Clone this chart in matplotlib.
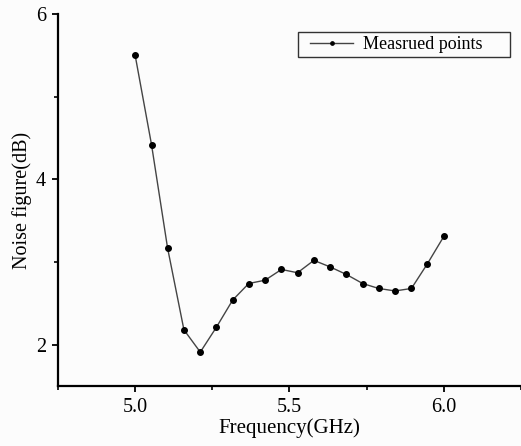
import matplotlib.pyplot as plt
from matplotlib.patches import Rectangle
from matplotlib.ticker import MultipleLocator

# Measured noise figure vs frequency
freq = [5.000, 5.053, 5.105, 5.158, 5.211, 5.263, 5.316, 5.368, 5.421, 5.474,
        5.526, 5.579, 5.632, 5.684, 5.737, 5.789, 5.842, 5.895, 5.947, 6.000]
nf = [5.50, 4.42, 3.17, 2.18, 1.91, 2.21, 2.54, 2.74, 2.78, 2.91,
      2.87, 3.02, 2.94, 2.85, 2.74, 2.68, 2.65, 2.68, 2.98, 3.31]
xtick_labels = ['5.0', '5.5', '6.0']

plt.rcParams['font.family'] = ['Liberation Serif', 'DejaVu Serif']

fig = plt.figure(figsize=(5.21, 4.46), dpi=100, facecolor='#fcfcfc')
ax = fig.add_axes([0.1113, 0.1345, 0.8887, 0.8341])
ax.set_facecolor('#fcfcfc')

ax.plot(freq, nf, color='#444444', linewidth=1.0, marker='o', markersize=4,
        markerfacecolor='black', markeredgecolor='black', label='Measrued points')

ax.set_xlim(4.75, 6.25)
ax.set_ylim(1.5, 6)
ax.xaxis.set_minor_locator(MultipleLocator(0.25))
ax.yaxis.set_major_locator(MultipleLocator(2))
ax.yaxis.set_minor_locator(MultipleLocator(1))
ax.set_xticks([5.0, 5.5, 6.0])
ax.set_xticklabels(xtick_labels)

for side in ['top', 'right']:
    ax.spines[side].set_visible(False)
for side in ['left', 'bottom']:
    ax.spines[side].set_linewidth(1.6)

ax.tick_params(which='major', direction='out', length=4.5, width=1.3,
               labelsize=14.5, pad=4)
ax.tick_params(which='minor', direction='out', length=3, width=1.2)

ax.set_xlabel('Frequency(GHz)', fontsize=15, labelpad=1)
ax.set_ylabel('Noise figure(dB)', fontsize=14.5, labelpad=3)

# legend entry without its own frame, plus a separate box
leg = ax.legend(loc='center left', bbox_to_anchor=(0.544, 0.918), fontsize=13,
                frameon=False, handlelength=2.4, handletextpad=0.55,
                borderpad=0, borderaxespad=0, markerscale=0.6)
box = Rectangle((0.518, 0.8844), 0.458, 0.0672, transform=ax.transAxes,
                fill=False, edgecolor='#333333', linewidth=1.0)
ax.add_patch(box)

fig.savefig('out.png', dpi=100, facecolor=fig.get_facecolor())
